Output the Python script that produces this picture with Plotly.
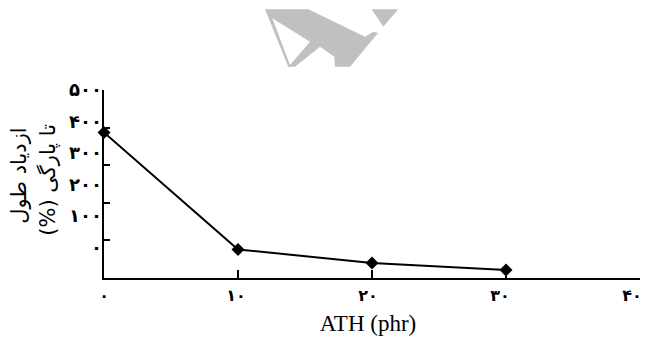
import plotly.graph_objects as go

# ---- data ----
ath_phr = [0, 10, 20, 30]
elongation_pct = [387, 76, 40, 21]

x_tick_vals = [0, 10, 20, 30, 40]
x_tick_text = ["۰", "۱۰", "۲۰", "۳۰", "۴۰"]
y_tick_vals = [0, 100, 200, 300, 400, 500]
y_tick_text = ["۰", "۱۰۰", "۲۰۰", "۳۰۰", "۴۰۰", "۵۰۰"]

x_title = "ATH (phr)"
y_title_line1 = "ازدیاد طول"
y_title_line2 = "\u200fتا پارگی (%)\u200f"

W, H = 646, 345
L, R, T, B = 104, 6, 90, 66.5
plot_h = H - T - B
plot_w = W - L - R

fa_font = "DejaVu Sans"

fig = go.Figure()
# invisible traces registering the label axes
fig.add_trace(go.Scatter(
    x=[ath_phr[0]], y=[elongation_pct[0]], yaxis="y2", mode="markers",
    marker=dict(opacity=0), showlegend=False, hoverinfo="skip",
))
fig.add_trace(go.Scatter(
    x=[ath_phr[0]], y=[elongation_pct[0]], xaxis="x2", mode="markers",
    marker=dict(opacity=0), showlegend=False, hoverinfo="skip",
))
fig.add_trace(go.Scatter(
    x=ath_phr, y=elongation_pct, mode="lines+markers",
    line=dict(color="black", width=2),
    marker=dict(symbol="diamond", size=10, color="black"),
    cliponaxis=False, showlegend=False, hoverinfo="skip",
))

label_bottom = (278.5 - 248) / plot_h
label_right = (632 - L) / plot_w

fig.update_layout(
    width=W, height=H,
    margin=dict(l=L, r=R, t=T, b=B, pad=0, autoexpand=False),
    paper_bgcolor="white", plot_bgcolor="rgba(0,0,0,0)",
    xaxis=dict(
        range=[0, 40], tickvals=x_tick_vals, showticklabels=False,
        ticks="inside", ticklen=8, tickwidth=2, tickcolor="black",
        showline=True, linewidth=2, linecolor="black", showgrid=False,
        zeroline=False, automargin=False,
    ),
    xaxis2=dict(
        domain=[0, label_right], range=[0, 40], anchor="y", side="bottom",
        tickvals=x_tick_vals, ticktext=x_tick_text,
        ticks="", showline=False, showgrid=False, zeroline=False,
        ticklabelstandoff=6, automargin=False,
        tickfont=dict(family=fa_font, size=16, color="black", weight="bold"),
        title=dict(text=x_title, standoff=10,
                   font=dict(family="Liberation Serif", size=23, color="black")),
    ),
    yaxis=dict(
        range=[0, 500], tickvals=y_tick_vals, showticklabels=False,
        ticks="inside", ticklen=6, tickwidth=2, tickcolor="black",
        showline=True, linewidth=2, linecolor="black", showgrid=False,
        zeroline=False, automargin=False,
    ),
    yaxis2=dict(
        domain=[label_bottom, 1], range=[0, 500], anchor="free", position=0,
        side="left", tickvals=y_tick_vals, ticktext=y_tick_text,
        ticks="", showline=False, showgrid=False, zeroline=False,
        ticklabelstandoff=2, automargin=False,
        tickfont=dict(family=fa_font, size=18, color="black", weight="bold"),
    ),
)

fig.add_annotation(
    text=y_title_line1, xref="paper", yref="paper",
    x=(19 - L) / plot_w, y=(278.5 - 176) / plot_h,
    textangle=-90, showarrow=False, xanchor="center", yanchor="middle",
    font=dict(family=fa_font, size=21, color="black"),
)
fig.add_annotation(
    text=y_title_line2, xref="paper", yref="paper",
    x=(48 - L) / plot_w, y=(278.5 - 180) / plot_h,
    textangle=-90, showarrow=False, xanchor="center", yanchor="middle",
    font=dict(family=fa_font, size=21, color="black"),
)

# decorative grey watermark (pixel path relative to top-left of plot area)
def px(x, y):
    return f"{x - L:.1f},{T - y:.1f}"

main = ("M" + px(265, 9.3) + " L" + px(308.3, 9.3) + " L" + px(365, 36.7) +
        " L" + px(373.3, 31.7) + " L" + px(378, 33) + " L" + px(350, 66.7) +
        " L" + px(335, 66.7) + " L" + px(334.3, 56.7) + " L" + px(320, 46.7) +
        " L" + px(295, 66.7) + " L" + px(288.3, 66.7) + " Z" +
        " M" + px(272.3, 18.3) + " L" + px(310, 41.7) + " L" + px(290, 65) + " Z")
tri = ("M" + px(371.7, 9.3) + " L" + px(398.3, 9.3) + " L" + px(383.3, 26.7) + " Z")
for p in (main, tri):
    fig.add_shape(type="path", path=p, xref="paper", yref="paper",
                  xsizemode="pixel", ysizemode="pixel", xanchor=0, yanchor=1,
                  fillcolor="#c0c0c0", line=dict(width=0), fillrule="evenodd",
                  layer="below")

fig.write_html("out.html", config={"displayModeBar": False},
               post_script="document.body.style.margin='0';")
